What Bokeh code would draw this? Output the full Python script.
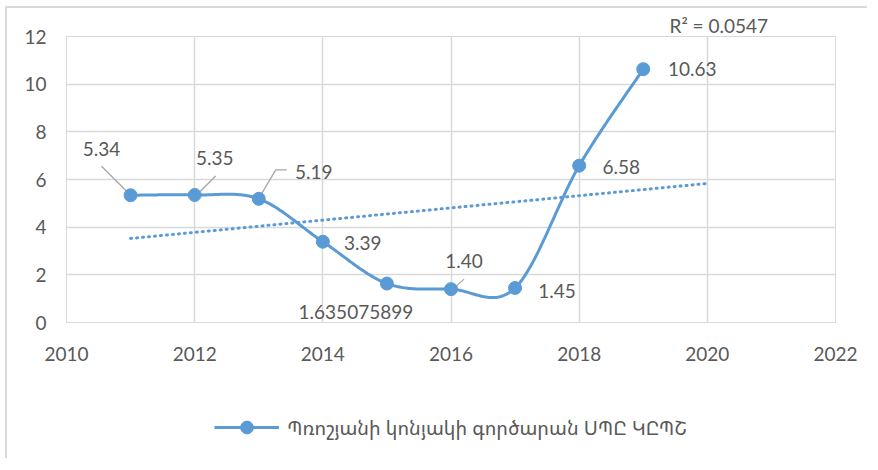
import numpy as np
from bokeh.plotting import figure
from bokeh.layouts import column
from bokeh.models import ColumnDataSource, Legend, LegendItem, Title, FixedTicker, Range1d
from bokeh.embed import file_html
from bokeh.resources import INLINE
from bokeh.core.properties import value

# ---- data ----
years = [2011, 2012, 2013, 2014, 2015, 2016, 2017, 2018, 2019]
values = [5.34, 5.35, 5.19, 3.39, 1.635075899, 1.40, 1.45, 6.58, 10.63]
label_texts = ["5.34", "5.35", "5.19", "3.39", "1.635075899", "1.40", "1.45", "6.58", "10.63"]
series_name = "Պռոշյանի կոնյակի գործարան ՍՊԸ ԿԸՊՇ"
x_ticks = [2010, 2012, 2014, 2016, 2018, 2020, 2022]
y_ticks = [0, 2, 4, 6, 8, 10, 12]

# ---- styles ----
label_dx = [-29, 20, 55, 40, -31, 13, 42, 42, 49]     # px, screen
label_dy = [-46, -37, -27, 1, 28, -28, 3, 1, 0]       # px, screen (down +)
BLUE = "#5B9BD5"
GRID = "#D9D9D9"
TXT = "#595959"
FONT = "Lato"

W, H = 860, 380
FL, FT, FR, FB = 59, 28, 828, 314   # frame box inside canvas
px_x = (FR - FL) / (x_ticks[-1] - x_ticks[0])
px_y = (FB - FT) / (y_ticks[-1] - y_ticks[0])

p = figure(width=W, height=H, output_backend="svg", toolbar_location=None,
           x_range=Range1d(x_ticks[0], x_ticks[-1]), y_range=Range1d(y_ticks[0], y_ticks[-1]),
           min_border_left=FL, min_border_right=W - FR, min_border_top=FT,
           min_border_bottom=H - FB)
p.outline_line_color = GRID
p.background_fill_color = "white"
p.border_fill_color = "white"

for ax in (p.xaxis[0], p.yaxis[0]):
    ax.axis_line_color = GRID
    ax.major_tick_line_color = None
    ax.minor_tick_line_color = None
    ax.major_tick_out = 0
    ax.major_tick_in = 0
    ax.major_label_text_font = FONT
    ax.major_label_text_font_size = "19px"
    ax.major_label_text_color = TXT
p.xaxis.ticker = FixedTicker(ticks=x_ticks)
p.yaxis.ticker = FixedTicker(ticks=y_ticks)
p.xaxis.major_label_standoff = 24
p.yaxis.major_label_standoff = 20
p.grid.grid_line_color = GRID
p.grid.grid_line_width = 1.5

# trendline (linear fit, forecast forward one period)
slope, intercept = np.polyfit(years, values, 1)
tx = np.array([years[0], years[-1] + 1], dtype=float)
p.line(tx, slope * tx + intercept, line_color=BLUE, line_width=3, line_dash="1 5", line_cap="round")
pred = slope * np.array(years) + intercept
ss_res = np.sum((np.array(values) - pred) ** 2)
ss_tot = np.sum((np.array(values) - np.mean(values)) ** 2)
r2 = 1 - ss_res / ss_tot

# smoothed curve (Catmull-Rom / Excel style Bezier)
def smooth(xs, ys, n=40):
    P = np.column_stack([xs, ys]).astype(float)
    out = []
    m = len(P)
    for i in range(m - 1):
        p0 = P[max(i - 1, 0)]; p1 = P[i]; p2 = P[i + 1]; p3 = P[min(i + 2, m - 1)]
        c1 = p1 + (p2 - p0) / 6.0
        c2 = p2 - (p3 - p1) / 6.0
        t = np.linspace(0, 1, n, endpoint=(i == m - 2))[:, None]
        seg = ((1 - t) ** 3) * p1 + 3 * ((1 - t) ** 2) * t * c1 + 3 * (1 - t) * t ** 2 * c2 + t ** 3 * p2
        out.append(seg)
    out = np.vstack(out)
    return out[:, 0], out[:, 1]

sx, sy = smooth(years, values)
p.line(sx, sy, line_color=BLUE, line_width=3, line_join="round")

# leader lines (offsets in px from the point)
leaders = {0: [(-29, -29), (-3, -3)], 1: [(21, -19), (2, 0)],
           2: [(28, -29), (17, -29), (1, -2)], 5: [(13, -10), (2, 0)]}
lxs, lys = [], []
for i, pts in leaders.items():
    lxs.append([years[i] + dx / px_x for dx, dy in pts])
    lys.append([values[i] - dy / px_y for dx, dy in pts])
p.multi_line(lxs, lys, line_color="#A6A6A6", line_width=1.3)

p.scatter(years, values, size=13, fill_color=BLUE, line_color=BLUE)

src = ColumnDataSource(dict(x=years, y=values, t=label_texts, dx=label_dx, dy=label_dy))
p.text(x="x", y="y", text="t", x_offset="dx", y_offset="dy", source=src,
       text_align="center", text_baseline="middle", text_font=value(FONT),
       text_font_size="19px", text_color=TXT)

# R² text of the trendline, placed above the frame
p.add_layout(Title(text="R² = %.4f" % r2, align="left", offset=603, standoff=0,
                   text_font=FONT, text_font_size="19px", text_color=TXT,
                   text_font_style="normal"), "above")

# ---- legend strip below the chart ----
LH = 70
lg = figure(width=W, height=LH, output_backend="svg", toolbar_location=None,
            x_range=Range1d(0, 1), y_range=Range1d(0, 1),
            x_axis_location=None, y_axis_location=None,
            min_border=0, min_border_left=0, min_border_right=0,
            min_border_top=0, min_border_bottom=0)
lg.outline_line_color = None
lg.grid.visible = False
# proxy renderers (outside the visible range) carrying the series style for the legend
lg_line = lg.line(x=[-5, -4], y=[-5, -4], line_color=BLUE, line_width=3)
lg_pts = lg.scatter(x=[-5], y=[-5], size=13, fill_color=BLUE, line_color=BLUE)
legend = Legend(items=[LegendItem(label=series_name, renderers=[lg_line, lg_pts])],
                orientation="horizontal", location=(148, 15),
                border_line_color=None, background_fill_alpha=0,
                glyph_width=65, glyph_height=32, label_standoff=8,
                label_text_font="Noto Sans Armenian, DejaVu Sans", label_text_font_size="19.5px",
                label_text_color=TXT, padding=0, margin=0)
lg.add_layout(legend)

layout = column(p, lg, spacing=0)
layout.styles = {"border-left": "2px solid #D9D9D9", "border-top": "2px solid #D9D9D9",
                 "margin-left": "5px", "margin-top": "6px"}

open("out.html", "w").write(file_html(layout, INLINE))
